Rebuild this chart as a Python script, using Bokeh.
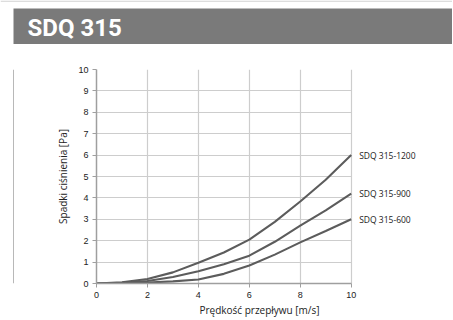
from bokeh.plotting import figure
from bokeh.layouts import column, row
from bokeh.models import FixedTicker, Range1d, ColumnDataSource
from bokeh.core.properties import value
from bokeh.embed import file_html
from bokeh.resources import INLINE

title_text = "SDQ 315"
x_label = "Prędkość przepływu [m/s]"
y_label = "Spadki ciśnienia [Pa]"

speed = [0, 1, 2, 3, 4, 5, 6, 7, 8, 9, 10]
series_names = ["SDQ 315-1200", "SDQ 315-900", "SDQ 315-600"]
drop_1200 = [0, 0.06, 0.21, 0.52, 0.97, 1.45, 2.05, 2.88, 3.83, 4.85, 6.0]
drop_900 = [0, 0.03, 0.12, 0.30, 0.57, 0.90, 1.30, 1.95, 2.70, 3.42, 4.2]
drop_600 = [0, 0.01, 0.05, 0.10, 0.19, 0.45, 0.84, 1.35, 1.92, 2.45, 3.0]
series_values = [drop_1200, drop_900, drop_600]
x_ticks = [0, 2, 4, 6, 8, 10]
y_ticks = [0, 1, 2, 3, 4, 5, 6, 7, 8, 9, 10]

W, H = 452, 319
BANNER_H = 44
LEFT_W = 14
BODY_H = H - BANNER_H


def bare(width, height, xr, yr):
    f = figure(width=width, height=height, output_backend="svg", toolbar_location=None,
               min_border=0, x_range=Range1d(*xr), y_range=Range1d(*yr))
    f.axis.visible = False
    f.grid.visible = False
    f.outline_line_color = None
    f.background_fill_color = "white"
    f.border_fill_color = "white"
    return f


# ---- banner ----
banner = bare(W, BANNER_H, (0, W), (BANNER_H, 0))
banner.quad(left=[0], right=[W], top=[0], bottom=[1.3], fill_color="#d2d2d2", line_color=None)
banner.quad(left=[13], right=[W], top=[8], bottom=[BANNER_H], fill_color="#7a7a7a", line_color=None)
banner.text(x=[27], y=[27], text=[title_text], text_color="white",
            text_font=value("Roboto"), text_font_style="bold",
            text_font_size="24px", text_baseline="middle", text_align="left")

# ---- left border strip ----
strip = bare(LEFT_W, BODY_H, (0, LEFT_W), (0, 1))
strip.quad(left=[12.8], right=[LEFT_W], top=[1], bottom=[0], fill_color="#9a9a9a", line_color=None)

# ---- chart ----
p = figure(width=W - LEFT_W, height=BODY_H, x_range=Range1d(0, 12.8), y_range=Range1d(0, 10),
           output_backend="svg", toolbar_location=None,
           min_border_left=96 - LEFT_W, min_border_right=30, min_border_top=25, min_border_bottom=35)
p.border_fill_color = "white"
p.background_fill_color = "white"
p.outline_line_color = None
for g in p.grid:
    g.grid_line_color = "#cdcdcd"
    g.grid_line_width = 1.2
p.xaxis.ticker = FixedTicker(ticks=x_ticks)
p.yaxis.ticker = FixedTicker(ticks=y_ticks)
try:
    p.ygrid[0].cross_bounds = (0, 10)
except Exception:
    pass
p.xaxis.bounds = (0, 10)
for ax in p.axis:
    ax.axis_line_color = "#9f9f9f"
    ax.axis_line_width = 1.5
    ax.major_tick_line_color = "#9f9f9f"
    ax.major_tick_out = 4
    ax.major_tick_in = 0
    ax.minor_tick_line_color = None
    ax.major_label_text_font = "Liberation Sans"
    ax.major_label_text_font_size = "9px"
    ax.major_label_text_color = "#222222"
    ax.axis_label_text_font = "Open Sans"
    ax.axis_label_text_font_size = "10px"
    ax.axis_label_text_font_style = "normal"
    ax.axis_label_text_color = "#222222"
p.xaxis.axis_label = x_label
p.yaxis.axis_label = y_label
p.xaxis.major_label_standoff = 4
p.yaxis.major_label_standoff = 4
p.xaxis.axis_label_standoff = 2
p.yaxis.axis_label_standoff = 5

for vals in series_values:
    p.line(speed, vals, line_color="#5c5c5c", line_width=2.1)

lab = ColumnDataSource(dict(x=[speed[-1]] * len(series_names),
                            y=[v[-1] for v in series_values], t=series_names))
p.text(x="x", y="y", text="t", source=lab, x_offset=8, text_baseline="middle", text_align="left",
       text_font=value("Open Sans"), text_font_size="8.5px", text_color="#222222")

layout = column(banner, row(strip, p, spacing=0), spacing=0)
open("out.html", "w").write(file_html(layout, INLINE))
